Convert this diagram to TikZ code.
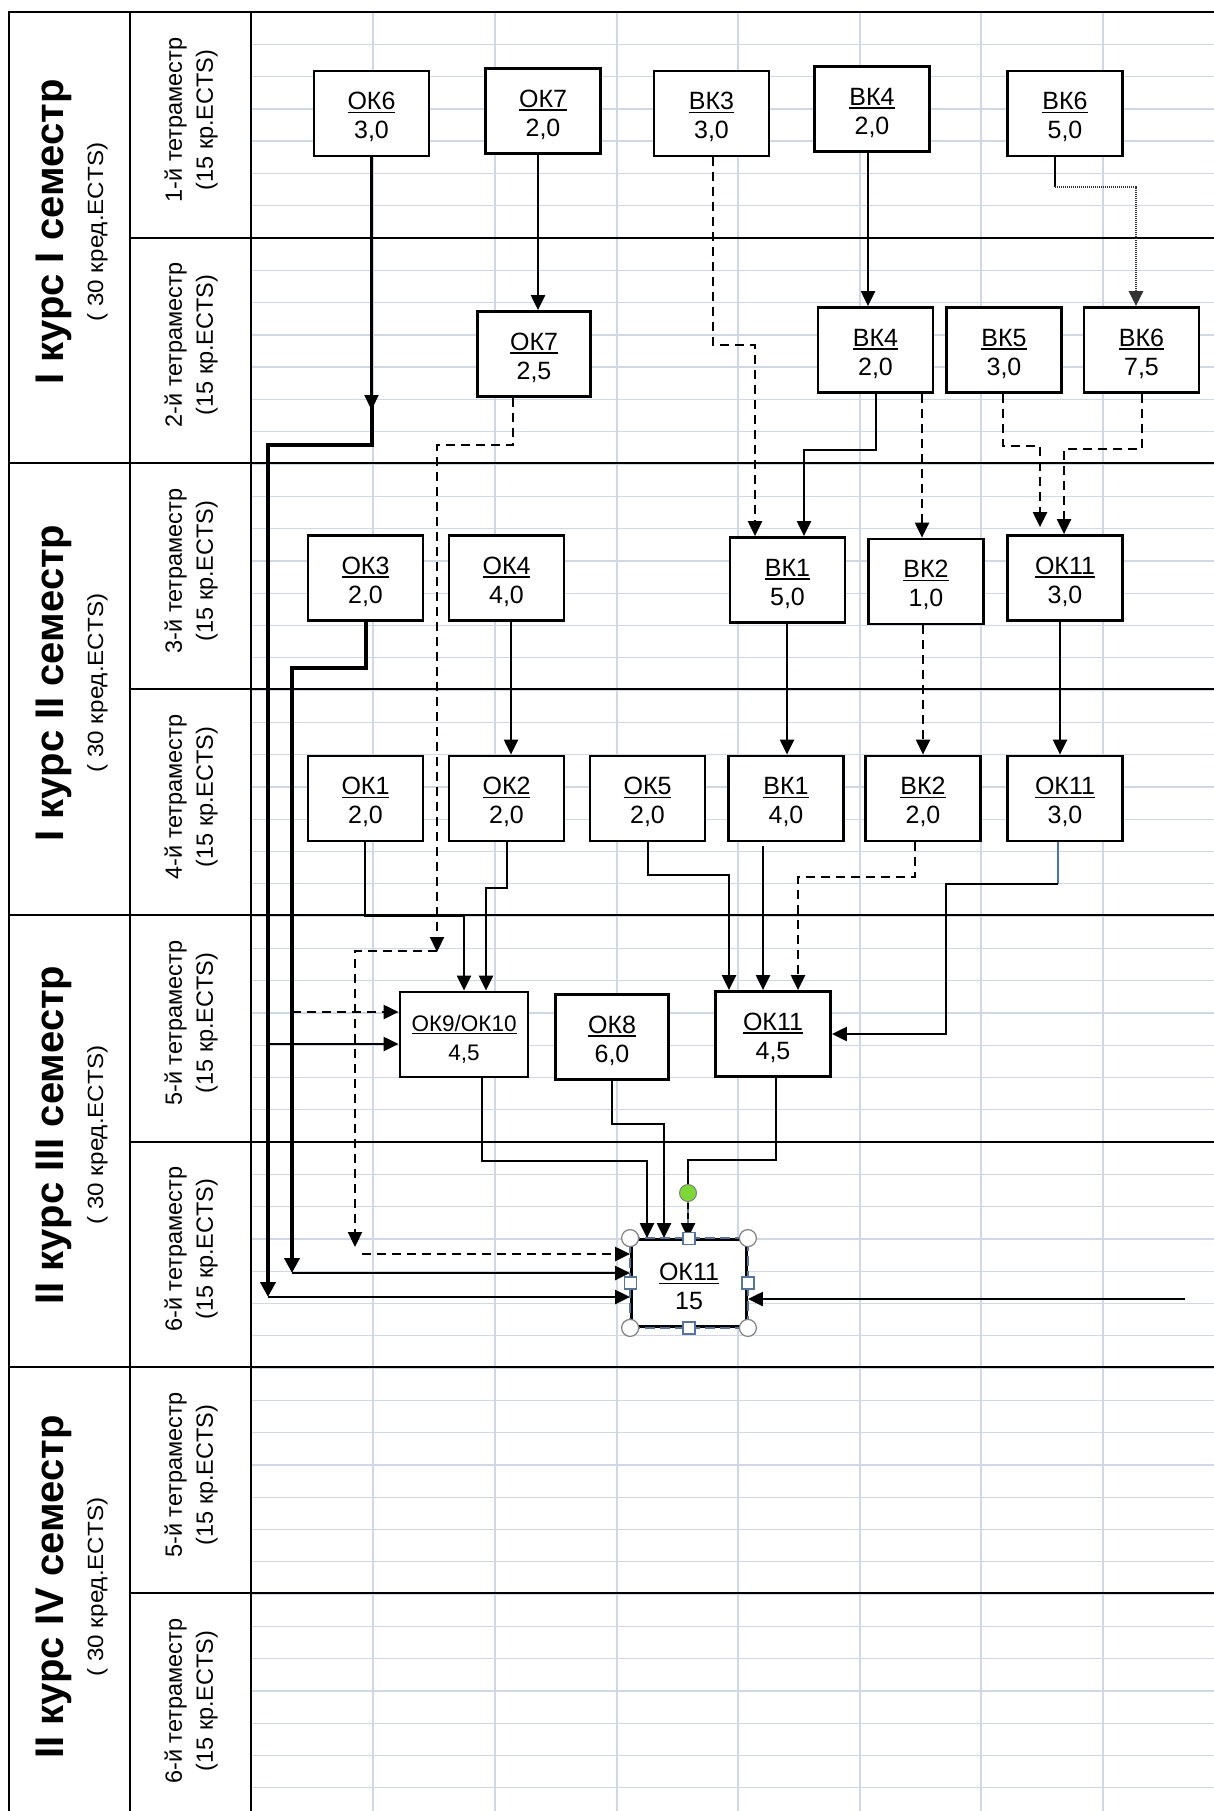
\documentclass[tikz,border=0pt]{standalone}
\usepackage{fontspec}
\setmainfont{Liberation Sans}
\usetikzlibrary{arrows.meta,calc}
\definecolor{gridc}{RGB}{208,216,232}
\definecolor{selc}{RGB}{85,115,155}
\definecolor{bluec}{RGB}{70,115,185}
\definecolor{greenc}{RGB}{125,215,55}
\newcommand\uln[1]{\leavevmode\rule{0pt}{25pt}\setbox0=\hbox{#1}\rlap{\rule[-3.4pt]{\wd0}{1.5pt}}\box0}
\begin{document}
\begin{tikzpicture}[x=1pt,y=-1pt,
  bx/.style={draw,fill=white,line width=2.8pt,inner sep=0pt,align=center,
    font=\fontsize{25}{29}\selectfont,minimum width=115pt,minimum height=85pt},
  conn/.style={line width=2.2pt,line join=miter,-{Triangle[length=15pt,width=14pt]}},
  thk/.style={line width=4pt,line join=miter,-{Triangle[length=15pt,width=15pt]}},
  dsh/.style={dash pattern=on 9pt off 6pt},
  semlab/.style={rotate=90,anchor=base,font=\bfseries\fontsize{40}{40}\selectfont},
  sublab/.style={rotate=90,anchor=base,font=\fontsize{22}{22}\selectfont},
  tetlab/.style={rotate=90,align=center,font=\fontsize{23.5}{31}\selectfont},
  frame/.style={line width=2.6pt},
  handle/.style={draw=gray,fill=white,line width=1.2pt},
  sq/.style={draw=selc,fill=white,line width=1.2pt,minimum size=12pt,inner sep=0pt}]
\useasboundingbox (0,0) rectangle (1214,1811);
\fill[white] (0,0) rectangle (1214,1811);
% light grid
\foreach \i in {1,...,55} \draw[gridc,line width=1.3pt] (251,{12+32.286*\i}) -- (1214,{12+32.286*\i});
\foreach \x in {373,495,617,738,860,981,1103} \draw[gridc,line width=1.3pt] (\x,12) -- (\x,1811);
% main lines
\foreach \y in {238,463,689,915,1142,1367,1593} \draw[line width=1.6pt] (251,\y) -- (1214,\y);
\foreach \y in {463,915,1367} \draw[frame] (9,\y) -- (251,\y);
\foreach \y in {238,689,1142,1593} \draw[frame] (130,\y) -- (251,\y);
\draw[frame] (1214,12) -- (9,12) -- (9,1811);
\draw[frame] (130,12) -- (130,1811);
\draw[frame] (251,12) -- (251,1811);
% labels
\node[semlab] (s1) at (63,232) {I курс I семестр};
\node[sublab] (s1b) at (103,232) {\scalebox{1.1}[1]{( 30 кред.ECTS)}};
\node[semlab] (s2) at (63,683) {I курс II семестр};
\node[sublab] (s2b) at (103,683) {\scalebox{1.1}[1]{( 30 кред.ECTS)}};
\node[semlab] (s3) at (63,1135) {II курс III семестр};
\node[sublab] (s3b) at (103,1135) {\scalebox{1.1}[1]{( 30 кред.ECTS)}};
\node[semlab] (s4) at (63,1587) {II курс IV семестр};
\node[sublab] (s4b) at (103,1587) {\scalebox{1.1}[1]{( 30 кред.ECTS)}};
\node[tetlab] (t1) at (191,120) {1-й тетраместр\\(15 кр.ECTS)};
\node[tetlab] (t2) at (191,345) {2-й тетраместр\\(15 кр.ECTS)};
\node[tetlab] (t3) at (191,571) {3-й тетраместр\\(15 кр.ECTS)};
\node[tetlab] (t4) at (191,797) {4-й тетраместр\\(15 кр.ECTS)};
\node[tetlab] (t5) at (191,1023) {5-й тетраместр\\(15 кр.ECTS)};
\node[tetlab] (t6) at (191,1249) {6-й тетраместр\\(15 кр.ECTS)};
\node[tetlab] (t7) at (191,1475) {5-й тетраместр\\(15 кр.ECTS)};
\node[tetlab] (t8) at (191,1701) {6-й тетраместр\\(15 кр.ECTS)};
% boxes
\node[bx] (ok6a) at (371.5,113.5) {\uln{ОК6}\\3,0};
\node[bx] (ok7a) at (543,111) {\uln{ОК7}\\2,0};
\node[bx] (bk3) at (711.5,113.5) {\uln{ВК3}\\3,0};
\node[bx] (bk4a) at (872,109) {\uln{ВК4}\\2,0};
\node[bx] (bk6a) at (1065,113.5) {\uln{ВК6}\\5,0};
\node[bx,minimum width=113pt] (ok7b) at (534,354) {\uln{ОК7}\\2,5};
\node[bx] (bk4b) at (875.5,350) {\uln{ВК4}\\2,0};
\node[bx] (bk5) at (1004,350) {\uln{ВК5}\\3,0};
\node[bx] (bk6b) at (1141.5,350) {\uln{ВК6}\\7,5};
\node[bx] (ok3) at (365.5,578) {\uln{ОК3}\\2,0};
\node[bx] (ok4) at (506.5,578) {\uln{ОК4}\\4,0};
\node[bx] (bk1a) at (787.5,580) {\uln{ВК1}\\5,0};
\node[bx] (bk2a) at (926,581.5) {\uln{ВК2}\\1,0};
\node[bx] (ok11a) at (1065,578) {\uln{ОК11}\\3,0};
\node[bx] (ok1) at (365.5,798.5) {\uln{ОК1}\\2,0};
\node[bx] (ok2) at (506.5,798.5) {\uln{ОК2}\\2,0};
\node[bx] (ok5) at (647.5,798.5) {\uln{ОК5}\\2,0};
\node[bx] (bk1b) at (786,798.5) {\uln{ВК1}\\4,0};
\node[bx] (bk2b) at (923,798.5) {\uln{ВК2}\\2,0};
\node[bx] (ok11b) at (1065,798.5) {\uln{ОК11}\\3,0};
\node[bx,minimum width=128pt,font=\fontsize{22.5}{29}\selectfont] (ok910) at (464,1034.5) {\uln{ОК9/ОК10}\\4,5};
\node[bx,minimum width=113pt] (ok8) at (612,1037) {\uln{ОК8}\\6,0};
\node[bx] (ok11c) at (773,1034) {\uln{ОК11}\\4,5};
\node[bx,minimum height=87pt] (ok11d) at (689,1283) {\uln{ОК11}\\15};
% connectors
\draw[conn] (ok6a.south) -- (371.5,410);
\draw[thk] (371.5,398) -- (371.5,445) -- (268,445) -- (268,1297);
\coordinate (j6) at (268,1297);
\draw[conn] (j6) -- ([yshift=-14pt]ok11d.west);
\draw[conn] ([xshift=-5pt]ok7a.south) -- (538,0 |- ok7b.north);
\draw[conn,dsh] ([xshift=1.5pt]bk3.south) |- (755,345) -- (755,0 |- bk1a.north);
\draw[conn] ([xshift=-4pt]bk4a.south) -- (868,0 |- bk4b.north);
\draw[line width=2.2pt] ([xshift=-10pt]bk6a.south) -- (1055,187);
\draw[conn,line width=2.6pt,black!80,dash pattern=on 1.2pt off 0.8pt] (1055,187) -- (1136,187) -- (1136,0 |- bk6b.north);
\draw[conn,dsh] ([xshift=-21pt]ok7b.south) |- (437,445) -- (437,952);
\draw[conn,dsh] (437,951) -| (355,1247);
\draw[conn,dsh] (362,1254) -- ([yshift=29pt]ok11d.west);
\draw[conn] ([xshift=0.5pt]bk4b.south) |- (804,450) -- (804,0 |- bk1a.north);
\draw[conn,dsh] ([xshift=46.5pt]bk4b.south) -- (922,0 |- bk2a.north);
\draw[conn,dsh,shorten >=7pt] ([xshift=-1pt]bk5.south) |- (1040,446) -- (1040,0 |- ok11a.north);
\draw[conn,dsh] ([xshift=0.5pt]bk6b.south) |- (1064,449) -- (1064,0 |- ok11a.north);
\draw[thk] ([xshift=0.5pt]ok3.south) |- (292,668) -- (292,1273);
\coordinate (j3) at (292,1273);
\draw[conn] (j3) -- ([yshift=10pt]ok11d.west);
\draw[conn,dsh] (292,1012) -- ([yshift=22.5pt]ok910.west);
\draw[conn] (268,1044) -- ([yshift=-9.5pt]ok910.west);
\draw[conn] ([xshift=4.5pt]ok4.south) -- (511,0 |- ok2.north);
\draw[conn] ([xshift=-0.5pt]bk1a.south) -- (787,0 |- bk1b.north);
\draw[conn,dsh] ([xshift=-3pt]bk2a.south) -- (923,0 |- bk2b.north);
\draw[conn] ([xshift=-5pt]ok11a.south) -- (1060,0 |- ok11b.north);
\draw[conn] ([xshift=-0.5pt]ok1.south) |- (464,916) -- (ok910.north);
\draw[conn] ([xshift=0.5pt]ok2.south) |- (486,888) -- (486,0 |- ok910.north);
\draw[conn] ([xshift=0.5pt]ok5.south) |- (729,875) -- (729,0 |- ok11c.north);
\draw[conn] ([xshift=-23pt,yshift=-4pt]bk1b.south) -- (763,0 |- ok11c.north);
\draw[conn,dsh] ([xshift=-8pt]bk2b.south) |- (798,877) -- (798,0 |- ok11c.north);
\draw[bluec,line width=2pt] ([xshift=-7pt]ok11b.south) -- (1058,884);
\draw[conn] (1058,884) -| (946,1034) -- (ok11c.east);
\draw[conn] ([xshift=18pt]ok910.south) |- (647,1161) -- (647,0 |- ok11d.north);
\draw[conn] (ok8.south) |- (664,1124) -- (664,0 |- ok11d.north);
\draw[line width=2.2pt,line join=miter] ([xshift=3pt]ok11c.south) |- (688,1160) -- (688,1193);
\draw[selc,line width=2.2pt] (688,1193) -- (688,1230);
\draw[conn,dash pattern=on 6pt off 4pt] (688,1193) -- (688,0 |- ok11d.north);
\coordinate (rin) at (1185,1299);
\draw[conn] (rin) -- ([yshift=-16pt]ok11d.east);
% selection decorations
\draw[selc,line width=1.4pt,dash pattern=on 10pt off 5pt] (ok11d.south west) rectangle (ok11d.north east);
\node[circle,fill=greenc,draw=gray,line width=1pt,minimum size=17pt,inner sep=0pt] (gd) at (688,1193) {};
\foreach \a in {north west,north east,south west,south east} \draw[handle] (ok11d.\a) circle (8.5pt);
\foreach \a in {north,south,east,west} \node[sq] at (ok11d.\a) {};
\end{tikzpicture}
\end{document}
